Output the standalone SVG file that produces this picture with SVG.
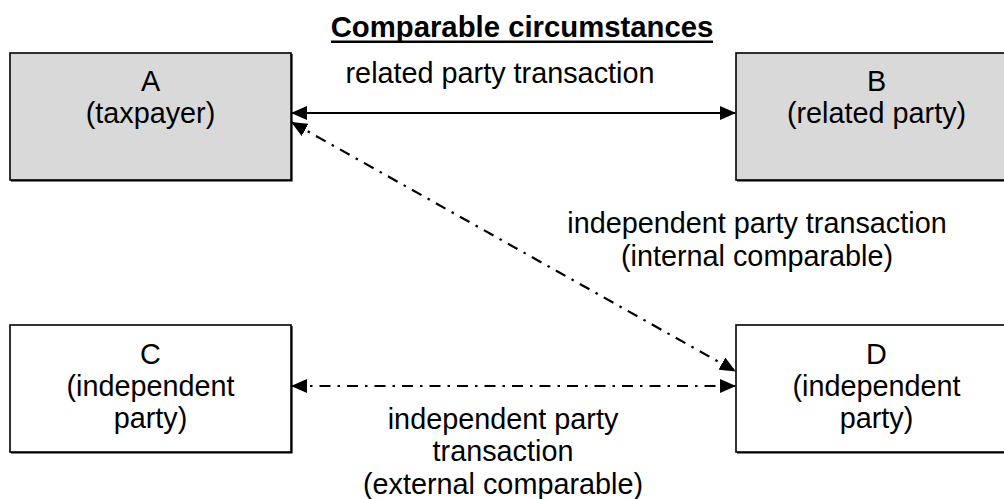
<svg xmlns="http://www.w3.org/2000/svg" width="1004" height="499" viewBox="0 0 1004 499">
  <defs>
    <marker id="arrowEnd" viewBox="0 0 16 14" refX="15" refY="7" markerWidth="16" markerHeight="14" markerUnits="userSpaceOnUse" orient="auto">
      <path d="M0,0 L16,7 L0,14 Z" fill="#000"/>
    </marker>
    <marker id="arrowStart" viewBox="0 0 16 14" refX="1" refY="7" markerWidth="16" markerHeight="14" markerUnits="userSpaceOnUse" orient="auto">
      <path d="M16,0 L0,7 L16,14 Z" fill="#000"/>
    </marker>
  </defs>
  <style>
    text { font-family: "Liberation Sans", Arial, sans-serif; font-size: 28.8px; fill: #000; text-anchor: middle; }
    .title { font-weight: bold; font-size: 29.3px; }
    .box { stroke: #000; stroke-width: 1.6; }
    .shaded { fill: #d9d9d9; }
    .plain { fill: #fff; }
    .shadow { fill: none; stroke: #000; stroke-width: 1.6; }
    .solid { fill: none; stroke: #000; stroke-width: 2.2; }
    .dashdot { fill: none; stroke: #000; stroke-width: 2.2; stroke-dasharray: 11 7 2.5 7; }
  </style>
  <rect width="1004" height="499" fill="#fff"/>

  <!-- heading -->
  <g id="heading">
    <text class="title" x="522" y="37">Comparable circumstances</text>
    <line x1="331" y1="41.8" x2="713" y2="41.8" stroke="#000" stroke-width="2.4"/>
  </g>

  <!-- parties -->
  <g id="node-A">
    <rect class="box shaded" x="10" y="53" width="281" height="127"/>
    <polyline class="shadow" points="291.8,54 291.8,180.8 11,180.8"/>
    <text x="150.5" y="90.7">A</text>
    <text x="150.5" y="123.3">(taxpayer)</text>
  </g>
  <g id="node-B">
    <rect class="box shaded" x="736" y="53" width="281" height="127"/>
    <line class="shadow" x1="737" y1="180.8" x2="1004" y2="180.8"/>
    <text x="876.5" y="90.7">B</text>
    <text x="876.5" y="123.3">(related party)</text>
  </g>
  <g id="node-C">
    <rect class="box plain" x="10" y="325" width="281" height="127"/>
    <polyline class="shadow" points="291.8,326 291.8,452.8 11,452.8"/>
    <text x="150.5" y="364">C</text>
    <text x="150.5" y="396">(independent</text>
    <text x="150.5" y="428">party)</text>
  </g>
  <g id="node-D">
    <rect class="box plain" x="736" y="325" width="281" height="127"/>
    <line class="shadow" x1="737" y1="452.8" x2="1004" y2="452.8"/>
    <text x="876.5" y="364">D</text>
    <text x="876.5" y="396">(independent</text>
    <text x="876.5" y="428">party)</text>
  </g>

  <!-- transactions -->
  <g id="connectors">
    <line class="solid" x1="292" y1="113" x2="735" y2="113" marker-start="url(#arrowStart)" marker-end="url(#arrowEnd)"/>
    <line class="dashdot" x1="292" y1="122.5" x2="735" y2="371" marker-start="url(#arrowStart)" marker-end="url(#arrowEnd)"/>
    <line class="dashdot" x1="292" y1="386" x2="735" y2="386" marker-start="url(#arrowStart)" marker-end="url(#arrowEnd)"/>
  </g>

  <!-- transaction labels -->
  <g id="labels">
    <text x="500" y="83">related party transaction</text>
    <text x="757" y="233">independent party transaction</text>
    <text x="757" y="266">(internal comparable)</text>
    <text x="503" y="428.5">independent party</text>
    <text x="503" y="461">transaction</text>
    <text x="503" y="493.5">(external comparable)</text>
  </g>
</svg>
